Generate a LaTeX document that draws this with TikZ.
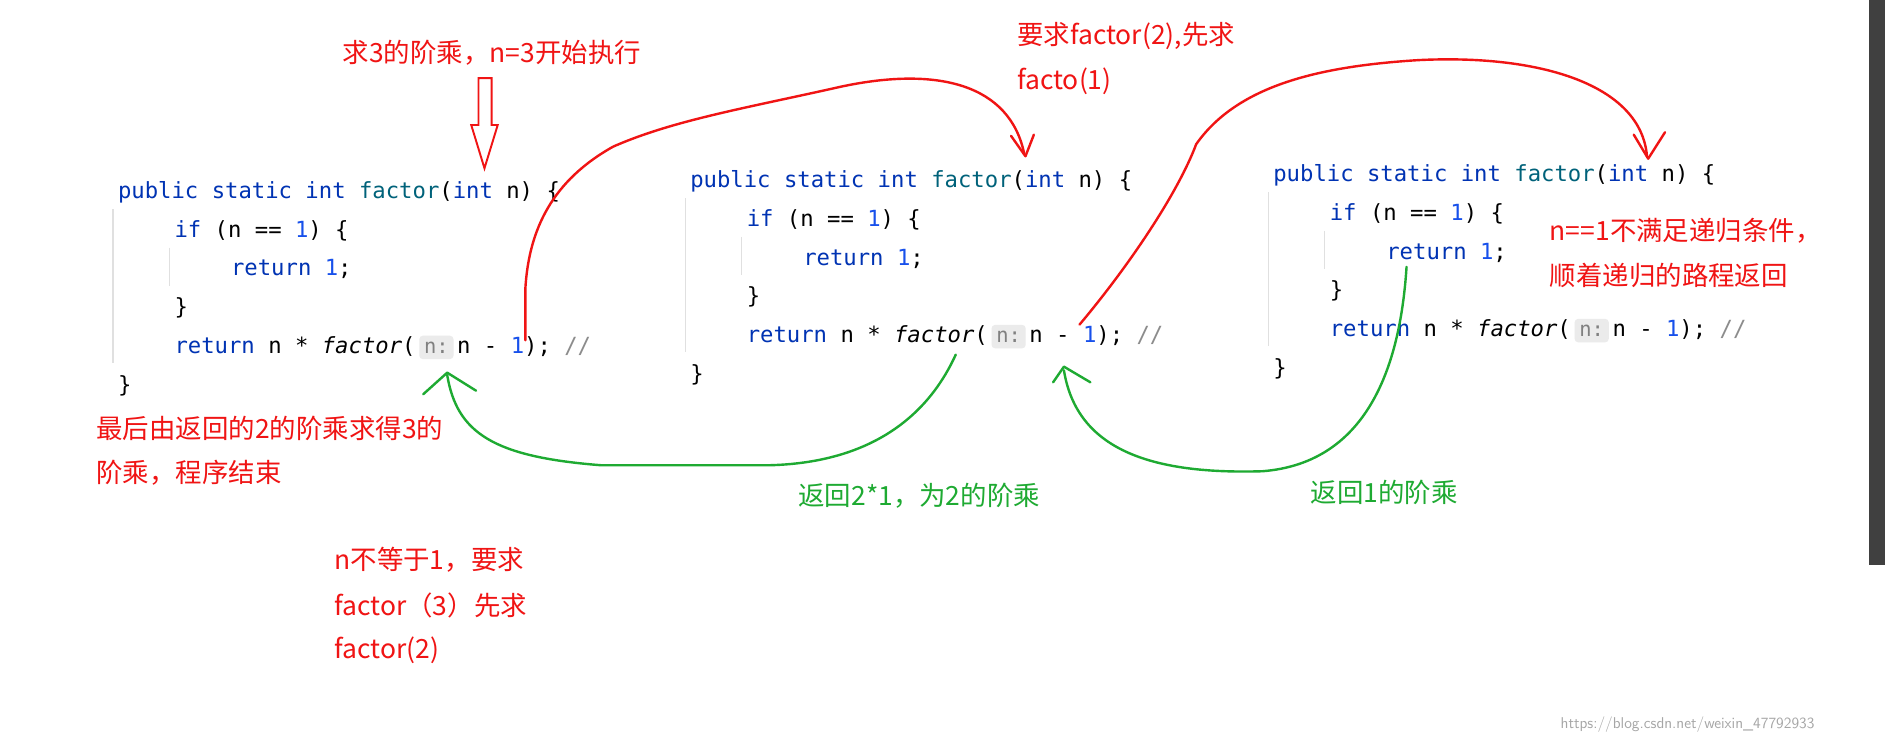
\documentclass[tikz,border=0pt]{standalone}
\usepackage{fontspec}
\setmonofont{DejaVu Sans Mono}
\newfontfamily\cjk{Noto Sans CJK SC}
\usetikzlibrary{arrows.meta}
\definecolor{kw}{HTML}{0033B3}
\definecolor{fn}{HTML}{00627A}
\definecolor{num}{HTML}{1750EB}
\definecolor{cmt}{HTML}{8C8C8C}
\definecolor{rd}{HTML}{F01414}
\definecolor{gr}{HTML}{1EAA32}
\newcommand{\K}[1]{\textcolor{kw}{#1}}
\newcommand{\F}[1]{\textcolor{fn}{#1}}
\newcommand{\N}[1]{\textcolor{num}{#1}}
\newcommand{\hint}{\tikz[baseline=0pt]\node[fill=black!8,rounded corners=3pt,inner xsep=4pt,inner ysep=5pt,text=black!50,font=\ttfamily\fontsize{17}{17}\selectfont,anchor=base]{n:};}
\tikzset{
 code/.style={anchor=west,inner sep=0pt,font=\ttfamily\fontsize{18.5}{20}\selectfont},
 rlab/.style={anchor=west,inner sep=0pt,text=rd,font=\cjk\fontsize{22}{24}\selectfont},
 glab/.style={anchor=west,inner sep=0pt,text=gr,font=\cjk\fontsize{22}{24}\selectfont},
 rline/.style={draw=rd,line width=2pt,line cap=round,line join=round},
 gline/.style={draw=gr,line width=2pt,line cap=round,line join=round},
 guide/.style={draw=black!12,line width=1pt}
}
\begin{document}
\begin{tikzpicture}[x=1pt,y=-1pt]
\useasboundingbox[fill=white] (0,0) rectangle (1568,617);
\fill[black!75] (1555,0) rectangle (1568,470);
% blocks
\foreach \bx/\by/\nm in {98/160/a,574/151/b,1059/146/c}{
 \begin{scope}[shift={(\bx,\by)}]
 \draw[guide] (-4,14) -- (-4,142);
 \draw[guide] (43,46) -- (43,78);
 \node[code] (\nm1) at (0,0) {\K{public static int} \F{factor}(\K{int} n) \{};
 \node[code] (\nm2) at (47,32) {\K{if} (n == \N{1}) \{};
 \node[code] (\nm3) at (94,64) {\K{return} \N{1};};
 \node[code] (\nm4) at (47,96) {\}};
 \node[code] (\nm5) at (47,129) {\K{return} n * \textit{factor}(\,\hint\,n - \N{1}); \textcolor{cmt}{//}};
 \node[code] (\nm6) at (0,161) {\}};
 \end{scope}
}
% labels
\node[rlab] (t1) at (285,44) {求3的阶乘，n=3开始执行};
\node[rlab] (t2) at (846,30) {要求factor(2),先求};
\node[rlab] (t3) at (846,68) {facto(1)};
\node[rlab] (t4) at (1289,192) {n==1不满足递归条件，};
\node[rlab] (t5) at (1289,229) {顺着递归的路程返回};
\node[rlab] (t6) at (80,356) {最后由返回的2的阶乘求得3的};
\node[rlab] (t7) at (80,393) {阶乘，程序结束};
\node[glab] (t8) at (664,412) {返回2*1，为2的阶乘};
\node[glab] (t9) at (1090,410) {返回1的阶乘};
\node[rlab] (t10) at (278,466) {n不等于1，要求};
\node[rlab] (t11) at (278,504) {factor（3）先求};
\node[rlab] (t12) at (278,541) {factor(2)};
\node[anchor=west,inner sep=0pt,text=black!35,font=\fontsize{13}{14}\selectfont\sffamily] (wm) at (1298,603) {https://blog.csdn.net/weixin\_47792933};
% hollow arrow
\draw[draw=rd,line width=1.6pt,line join=miter] (398,65) -- (409,65) -- (409,104) -- (414,104) -- (403,140) -- (392,104) -- (398,104) -- cycle;
% red curves
\draw[rline] (437,283) -- (437,240) .. controls (440,190) and (460,150) .. (510,122)
  .. controls (560,100) and (620,90) .. (700,72) .. controls (780,55) and (840,70) .. (852,128);
\draw[rline] (841,113) -- (853,130) -- (860,112);
\draw[rline] (898,270) .. controls (940,220) and (980,160) .. (995,120)
  .. controls (1030,70) and (1100,55) .. (1180,50) .. controls (1280,45) and (1365,70) .. (1370,130);
\draw[rline] (1359,112) -- (1371,132) -- (1385,110);
% green curves
\draw[gline] (795,295) .. controls (770,350) and (720,385) .. (640,387) -- (500,387)
  .. controls (410,380) and (380,360) .. (372,312);
\draw[gline] (352,328) -- (372,310) -- (396,325);
\draw[gline] (1170,222) .. controls (1165,300) and (1140,385) .. (1050,392)
  .. controls (950,395) and (895,370) .. (885,308);
\draw[gline] (876,318) -- (885,305) -- (907,318);
\end{tikzpicture}
\end{document}
